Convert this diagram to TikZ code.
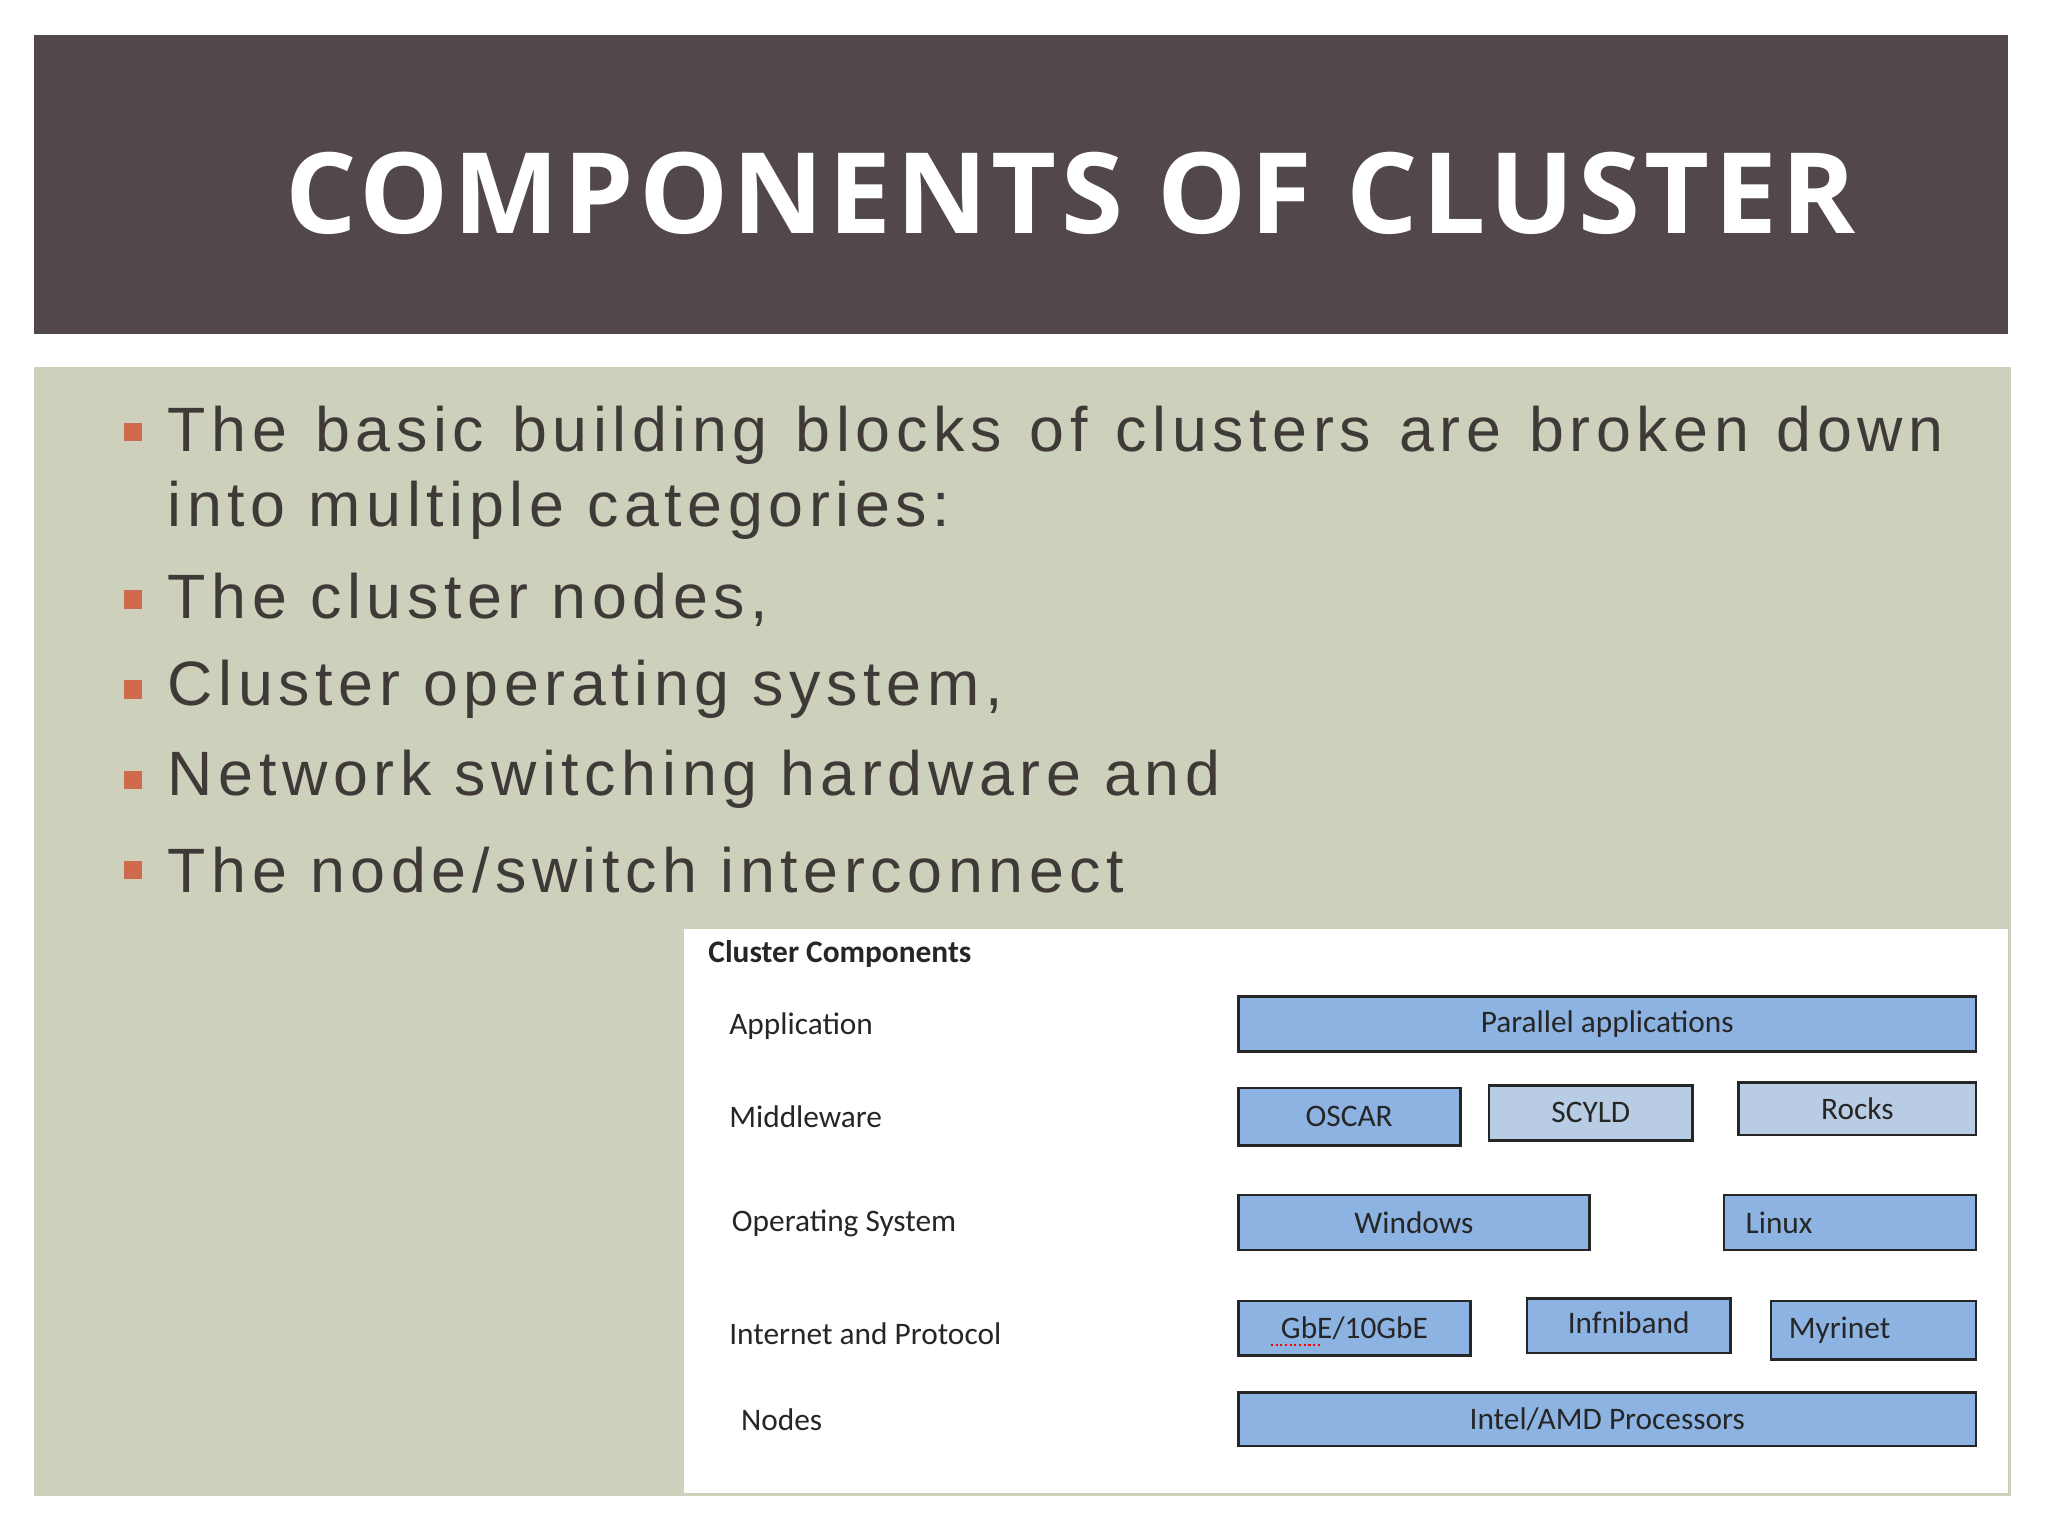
\documentclass[tikz,border=0pt]{standalone}
\usepackage{fontspec}
\setmainfont{Liberation Sans}
\newfontfamily\titlef{Open Sans}[LetterSpace=4]
\newfontfamily\bodyf{Liberation Sans}[LetterSpace=9]
\newfontfamily\diagf{Carlito}
\begin{document}
\begin{tikzpicture}[x=0.5pt,y=-0.5pt,
  box/.style={draw=black!85,line width=1pt,fill=dblue,inner sep=0pt,font=\diagf\fontsize{12}{14}\selectfont,text=black!85},
  lbox/.style={box,fill=lblue},
  lab/.style={anchor=west,inner sep=0pt,font=\diagf\fontsize{12}{14}\selectfont,text=black!85},
  bul/.style={fill=bulc,minimum size=7pt,inner sep=0pt},
  btxt/.style={anchor=west,inner sep=0pt,font=\bodyf\fontsize{24}{29}\selectfont,text=txtc}]
\definecolor{dblue}{HTML}{8DB3E2}
\definecolor{lblue}{HTML}{B8CCE4}
\definecolor{bulc}{HTML}{CF6A4F}
\definecolor{txtc}{HTML}{3F3A38}
\definecolor{titc}{HTML}{524849}
\definecolor{panc}{HTML}{CDD0BB}
\useasboundingbox (0,0) rectangle (1568,1176);
\fill[white] (0,0) rectangle (1568,1176);
\fill[titc] (26,27) rectangle (1537,256);
\node[inner sep=0pt,text=white,font=\titlef\bfseries\fontsize{43}{50}\selectfont] (title) at (820,148) {COMPONENTS OF CLUSTER};
\fill[panc] (26,281) rectangle (1540,1145);
\fill[white] (524,711) rectangle (1537,1143);
% bullets
\node[bul] (b1) at (102,331) {};
\node[btxt,text width=680pt,align=justify] (t1) at (128,362) {The basic building blocks of clusters are broken down into multiple categories:};
\node[bul] (b2) at (102,459) {};
\node[btxt] (t2) at (128,459) {The cluster nodes,};
\node[bul] (b3) at (102,528) {};
\node[btxt] (t3) at (128,528) {Cluster operating system,};
\node[bul] (b4) at (102,597) {};
\node[btxt] (t4) at (128,597) {Network switching hardware and};
\node[bul] (b5) at (102,666) {};
\node[btxt] (t5) at (128,666) {The node/switch interconnect};
% diagram
\node[lab,font=\diagf\bfseries\fontsize{12}{14}\selectfont] (cc) at (542,730) {Cluster Components};
\node[lab] (l1) at (558,786) {Application};
\node[lab] (l2) at (558,855) {Middleware};
\node[lab] (l3) at (560,937) {Operating System};
\node[lab] (l4) at (558,1021) {Internet and Protocol};
\node[lab] (l5) at (567,1087) {Nodes};
\node[box,minimum width=282.5pt,minimum height=21pt] (pa) at (1230.5,784) {Parallel applications};
\node[box,minimum width=85pt,minimum height=22pt] (os) at (1033,855) {OSCAR};
\node[lbox,minimum width=78pt,minimum height=21pt] (sc) at (1218,852) {SCYLD};
\node[lbox,minimum width=91pt,minimum height=20pt] (ro) at (1422,849) {Rocks};
\node[box,minimum width=134.5pt,minimum height=21pt] (wi) at (1082.5,936) {Windows};
\node[box,minimum width=96.5pt,minimum height=21pt,text width=80pt,align=left] (li) at (1416.5,936) {\raisebox{-3pt}{Linux}};
\node[box,minimum width=89pt,minimum height=21pt] (gb) at (1037,1017) {GbE/10GbE};
\node[box,minimum width=78pt,minimum height=21pt] (in) at (1247,1015) {\raisebox{2pt}{Infniband}};
\node[box,minimum width=78.5pt,minimum height=22.5pt,text width=65pt,align=left] (my) at (1434.5,1018.5) {Myrinet};
\node[box,minimum width=282.5pt,minimum height=20.5pt] (ia) at (1230.5,1086.5) {Intel/AMD Processors};
\draw[red,densely dotted,line width=0.8pt] (973,1030) -- (1012,1030);
\end{tikzpicture}
\end{document}
